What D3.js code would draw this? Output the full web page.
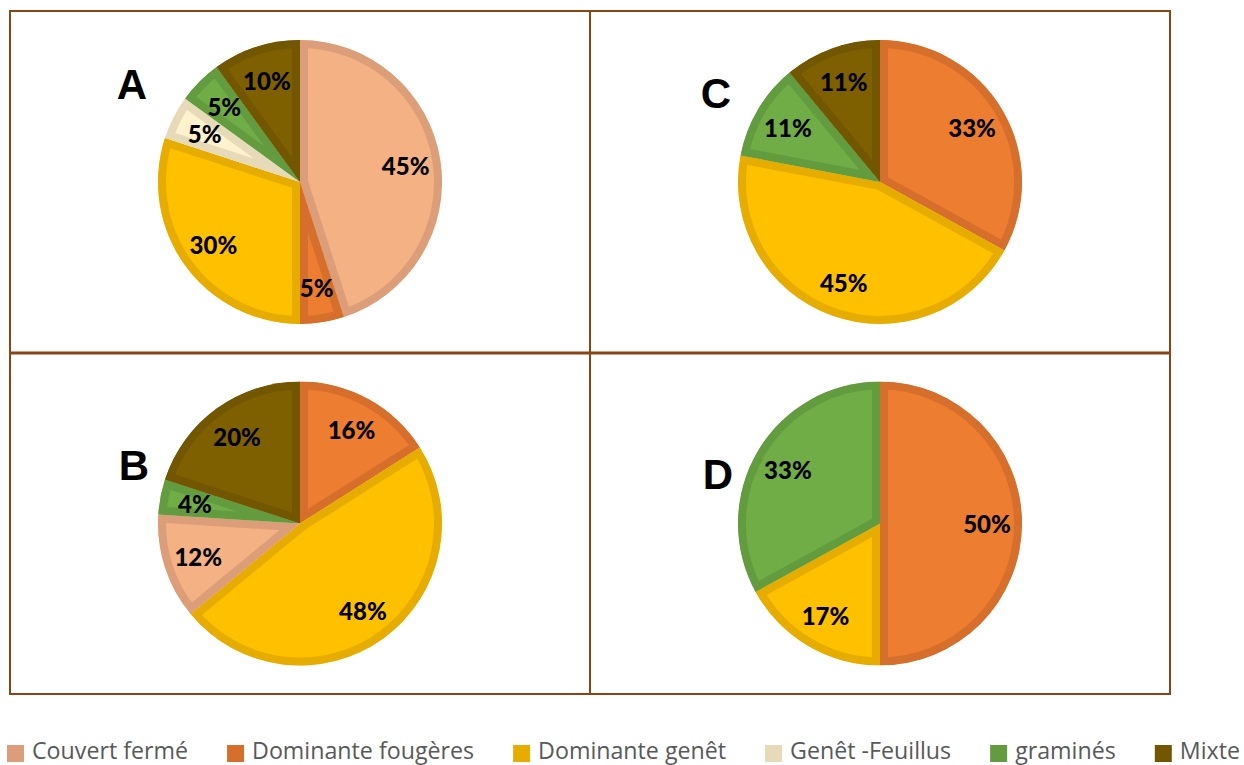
<!DOCTYPE html>
<html>
<head>
<meta charset="utf-8">
<script src="https://cdn.jsdelivr.net/npm/d3@7"></script>
<style>
  html, body { margin: 0; padding: 0; background: #fff; }
  svg { display: block; }
</style>
</head>
<body>
<svg id="chart" width="1244" height="765"></svg>
<script>
// ---------- DATA ----------
const categories = ["Couvert fermé", "Dominante fougères", "Dominante genêt", "Genêt -Feuillus", "graminés", "Mixte"];

const chartA_cats   = ["Couvert fermé", "Dominante fougères", "Dominante genêt", "Genêt -Feuillus", "graminés", "Mixte"];
const chartA_values = [45, 5, 30, 5, 5, 10];

const chartB_cats   = ["Dominante fougères", "Dominante genêt", "Couvert fermé", "graminés", "Mixte"];
const chartB_values = [16, 48, 12, 4, 20];

const chartC_cats   = ["Dominante fougères", "Dominante genêt", "graminés", "Mixte"];
const chartC_values = [33, 45, 11, 11];

const chartD_cats   = ["Dominante fougères", "Dominante genêt", "graminés"];
const chartD_values = [50, 17, 33];

const panelLetters = ["A", "B", "C", "D"];

// ---------- STYLE ----------
const fillColors   = ["#F4B183", "#ED7D31", "#FFC000", "#FFF2CC", "#70AD47", "#7F6000"];
const borderColors = ["#DC9E78", "#D66F2B", "#E6AC00", "#E6DAB8", "#639B3F", "#725600"];
const fillScale   = d3.scaleOrdinal().domain(categories).range(fillColors);
const borderScale = d3.scaleOrdinal().domain(categories).range(borderColors);

const svg = d3.select("#chart");
const frameColor = "#8B4513";

// frame
const frame = { x0: 10, y0: 11, x1: 1170, y1: 694, xm: 590, ym: 353 };
svg.append("rect")
  .attr("x", frame.x0).attr("y", frame.y0)
  .attr("width", frame.x1 - frame.x0).attr("height", frame.y1 - frame.y0)
  .attr("fill", "none").attr("stroke", frameColor).attr("stroke-width", 2);
svg.append("line").attr("x1", frame.xm).attr("x2", frame.xm).attr("y1", frame.y0).attr("y2", frame.y1)
  .attr("stroke", frameColor).attr("stroke-width", 2);
svg.append("line").attr("x1", frame.x0).attr("x2", frame.x1).attr("y1", frame.ym).attr("y2", frame.ym)
  .attr("stroke", frameColor).attr("stroke-width", 3);

const R = 142;
const borderW = 8;
const arc = d3.arc().innerRadius(0).outerRadius(R);
const labelArc = d3.arc().innerRadius(107).outerRadius(107);
const pie = d3.pie().sort(null).value(d => d.value);

const panels = [
  { letter: panelLetters[0], cats: chartA_cats, values: chartA_values, cx: (frame.x0 + frame.xm) / 2, cy: (frame.y0 + frame.ym) / 2, lx: 132, ly: 84 },
  { letter: panelLetters[1], cats: chartB_cats, values: chartB_values, cx: (frame.x0 + frame.xm) / 2, cy: (frame.ym + frame.y1) / 2, lx: 134, ly: 465 },
  { letter: panelLetters[2], cats: chartC_cats, values: chartC_values, cx: (frame.xm + frame.x1) / 2, cy: (frame.y0 + frame.ym) / 2, lx: 716, ly: 93 },
  { letter: panelLetters[3], cats: chartD_cats, values: chartD_values, cx: (frame.xm + frame.x1) / 2, cy: (frame.ym + frame.y1) / 2, lx: 718, ly: 474 }
];

const defs = svg.append("defs");

panels.forEach((p, pi) => {
  const data = p.cats.map((c, i) => ({ cat: c, value: p.values[i] }));
  const arcs = pie(data);
  const g = svg.append("g").attr("transform", `translate(${p.cx},${p.cy})`);

  // clip paths in the group's local coordinates => inner border only
  arcs.forEach((a, i) => {
    defs.append("clipPath").attr("id", `clip-${pi}-${i}`)
      .append("path").attr("d", arc(a));
  });

  g.selectAll("path.slice")
    .data(arcs)
    .join("path")
    .attr("class", "slice")
    .attr("d", arc)
    .attr("fill", d => fillScale(d.data.cat))
    .attr("stroke", d => borderScale(d.data.cat))
    .attr("stroke-width", borderW * 2)
    .attr("stroke-linejoin", "miter")
    .attr("clip-path", (d, i) => `url(#clip-${pi}-${i})`);

  g.selectAll("text.lbl")
    .data(arcs)
    .join("text")
    .attr("class", "lbl")
    .attr("transform", d => `translate(${labelArc.centroid(d)})`)
    .attr("text-anchor", "middle")
    .attr("dominant-baseline", "central")
    .attr("font-family", "Lato, 'Open Sans', sans-serif")
    .attr("font-weight", 900)
    .attr("font-size", 24)
    .attr("fill", "#000")
    .text(d => d.data.value + "%");

  svg.append("text")
    .attr("x", p.lx).attr("y", p.ly)
    .attr("text-anchor", "middle")
    .attr("dominant-baseline", "central")
    .attr("font-family", "'Liberation Sans', Arial, sans-serif")
    .attr("font-weight", "bold")
    .attr("font-size", 42)
    .attr("fill", "#000")
    .text(p.letter);
});

// ---------- LEGEND ----------
const legend = svg.append("g");
const legY = 753, sq = 17, gapSq = 8, gapItem = 39, legStart = 7, legEnd = 1240;
const items = legend.selectAll("g.item").data(categories).join("g").attr("class", "item");
items.append("rect").attr("width", sq).attr("height", sq).attr("y", legY - 8)
  .attr("fill", d => borderScale(d));
const texts = items.append("text")
  .attr("y", legY + 6)
  .attr("font-family", "'Liberation Sans Narrow', 'Open Sans', sans-serif")
  .attr("font-size", 24)
  .attr("fill", "#595959")
  .text(d => d);
const widths = [];
texts.each(function () { widths.push(this.getComputedTextLength()); });
const available = (legEnd - legStart) - categories.length * (sq + gapSq) - (categories.length - 1) * gapItem;
const k = available / d3.sum(widths);
let x = legStart;
items.each(function (d, i) {
  const it = d3.select(this);
  it.select("rect").attr("x", x);
  it.select("text").attr("x", x + sq + gapSq)
    .attr("textLength", widths[i] * k).attr("lengthAdjust", "spacingAndGlyphs");
  x += sq + gapSq + widths[i] * k + gapItem;
});
</script>
</body>
</html>
